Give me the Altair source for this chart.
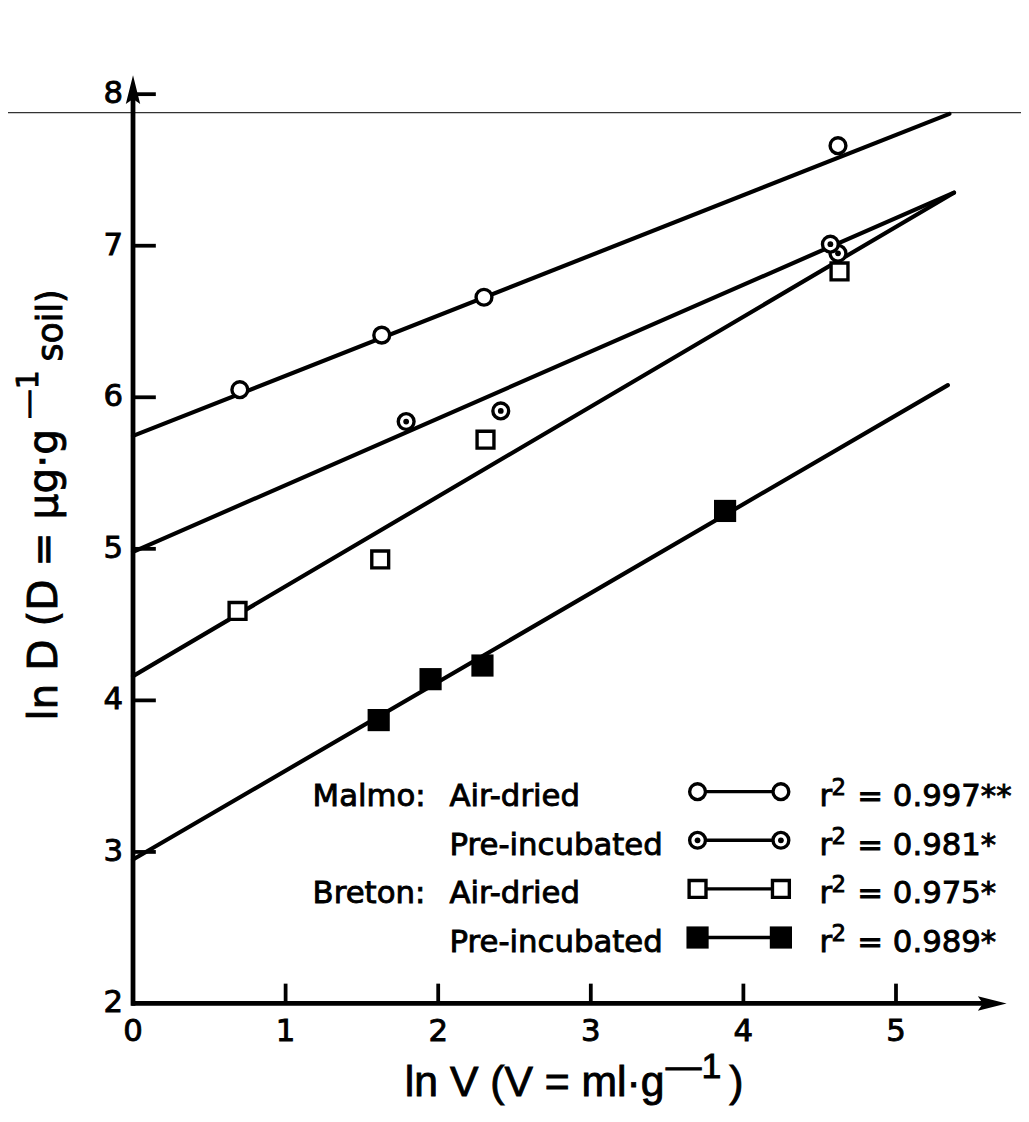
import altair as alt
import pandas as pd

# ---------------- data ----------------
malmo_air_x = [0.70, 1.63, 2.30, 4.62]
malmo_air_y = [6.05, 6.41, 6.66, 7.66]
malmo_pre_x = [1.79, 2.41, 4.62, 4.57]
malmo_pre_y = [5.84, 5.91, 6.95, 7.01]
breton_air_x = [0.685, 1.62, 2.31, 4.63]
breton_air_y = [4.59, 4.93, 5.72, 6.83]
breton_pre_x = [1.61, 1.95, 2.29, 3.88]
breton_pre_y = [3.87, 4.14, 4.23, 5.25]

# fitted regression lines (start / end)
fit_x0 = [0.0, 0.0, 0.0, 0.0]
fit_y0 = [5.745, 4.98, 4.16, 2.95]
fit_x1 = [5.35, 5.38, 5.38, 5.34]
fit_y1 = [7.87, 7.35, 7.35, 6.08]

x_ticks = [0, 1, 2, 3, 4, 5]
y_ticks = [2, 3, 4, 5, 6, 7, 8]

legend_site = ["Malmo:", "", "Breton:", ""]
legend_treat = ["Air-dried", "Pre-incubated", "Air-dried", "Pre-incubated"]
legend_r2 = ["0.997**", "0.981*", "0.975*", "0.989*"]
legend_kind = ["open_circle", "dot_circle", "open_square", "filled_square"]

# ---------------- geometry ----------------
X0_PAGE, Y2_PAGE = 134.0, 1007.0
PX_X, PX_Y = 153.8, 152.75
W, H = 875, 938
PLOT_TOP = Y2_PAGE - H
LW = 4.2          # line width of fitted lines
MSW = 3.4         # marker stroke width
TSW = 0.9         # text stroke (to mimic the heavy print)


def X(page_x):
    return (page_x - X0_PAGE) / PX_X


def Y(page_y):
    return 2 + (Y2_PAGE - page_y) / PX_Y


xs = alt.Scale(domain=[0, W / PX_X], nice=False, zero=False)
ys = alt.Scale(domain=[2, 2 + H / PX_Y], nice=False, zero=False)


def ex(f="x"):
    return alt.X(f"{f}:Q", scale=xs, axis=None)


def ey(f="y"):
    return alt.Y(f"{f}:Q", scale=ys, axis=None)


def text_kw(size, font, align="left", baseline="alphabetic", angle=None):
    kw = dict(align=align, baseline=baseline, font=font, fontSize=size, color="black",
              stroke="black", strokeWidth=TSW)
    if angle:
        kw["angle"] = angle
    return kw


layers = []

# scan line across the page
scan = pd.DataFrame({"x": [X(0)], "x2": [X(1029)], "y": [Y(109)]})
layers.append(alt.Chart(scan).mark_rule(color="#333333", strokeWidth=1.3).encode(
    x=ex(), x2="x2:Q", y=ey()))

# axis lines
ax = pd.DataFrame({"x": [0.0, -0.01], "x2": [0.0, X(1000)],
                   "y": [1.985, 2.0], "y2": [Y(92), 2.0]})
layers.append(alt.Chart(ax).mark_rule(color="black", strokeWidth=4.8).encode(
    x=ex(), x2="x2:Q", y=ey(), y2="y2:Q"))

# arrow heads
arrow_shape = "M0,-1L0.5,1L0,0.65L-0.5,1Z"
arr_up = pd.DataFrame({"x": [0.0], "y": [Y(86)]})
layers.append(alt.Chart(arr_up).mark_point(shape=arrow_shape, filled=True, color="black",
                                           size=840, opacity=1).encode(x=ex(), y=ey()))
arr_right = pd.DataFrame({"x": [X(1000)], "y": [2.0]})
layers.append(alt.Chart(arr_right).mark_point(shape=arrow_shape, filled=True, color="black",
                                              size=840, opacity=1, angle=90).encode(x=ex(), y=ey()))

# ticks (inward)
yt = pd.DataFrame({"x": [0.0] * (len(y_ticks) - 1), "x2": [X(X0_PAGE + 23)] * (len(y_ticks) - 1),
                   "y": y_ticks[1:]})
layers.append(alt.Chart(yt).mark_rule(color="black", strokeWidth=3.8).encode(
    x=ex(), x2="x2:Q", y=ey()))
xt = pd.DataFrame({"x": x_ticks[1:], "y": [2.0] * (len(x_ticks) - 1),
                   "y2": [2 + 20 / PX_Y] * (len(x_ticks) - 1)})
layers.append(alt.Chart(xt).mark_rule(color="black", strokeWidth=3.8).encode(
    x=ex(), y=ey(), y2="y2:Q"))

# tick labels
TICK_FONT = "DejaVu Sans"
ylab = pd.DataFrame({"x": [X(124)] * len(y_ticks), "y": y_ticks, "t": [str(v) for v in y_ticks]})
layers.append(alt.Chart(ylab).mark_text(**text_kw(31, TICK_FONT, align="right", baseline="middle"))
              .encode(x=ex(), y=ey(), text="t:N"))
xlab = pd.DataFrame({"x": x_ticks, "y": [Y(1045)] * len(x_ticks), "t": [str(v) for v in x_ticks]})
layers.append(alt.Chart(xlab).mark_text(**text_kw(31, TICK_FONT, align="center"))
              .encode(x=ex(), y=ey(), text="t:N"))

# regression lines
fits = pd.DataFrame({"x": fit_x0, "y": fit_y0, "x2": fit_x1, "y2": fit_y1})
layers.append(alt.Chart(fits).mark_rule(color="black", strokeWidth=LW, strokeCap="round").encode(
    x=ex(), y=ey(), x2="x2:Q", y2="y2:Q"))


def marker_layers(df, kind):
    out = []
    if kind in ("open_circle", "dot_circle"):
        out.append(alt.Chart(df).mark_point(shape="circle", filled=True, fill="white", stroke="black",
                                            strokeWidth=MSW, size=254, opacity=1).encode(x=ex(), y=ey()))
        if kind == "dot_circle":
            out.append(alt.Chart(df).mark_point(shape="circle", filled=True, color="black",
                                                size=34, opacity=1).encode(x=ex(), y=ey()))
    elif kind == "open_square":
        out.append(alt.Chart(df).mark_point(shape="square", filled=True, fill="white", stroke="black",
                                            strokeWidth=MSW, size=289, opacity=1).encode(x=ex(), y=ey()))
    else:
        out.append(alt.Chart(df).mark_point(shape="square", filled=True, color="black",
                                            size=500, opacity=1).encode(x=ex(), y=ey()))
    return out


layers += marker_layers(pd.DataFrame({"x": breton_pre_x, "y": breton_pre_y}), "filled_square")
layers += marker_layers(pd.DataFrame({"x": breton_air_x, "y": breton_air_y}), "open_square")
layers += marker_layers(pd.DataFrame({"x": malmo_pre_x, "y": malmo_pre_y}), "dot_circle")
layers += marker_layers(pd.DataFrame({"x": malmo_air_x, "y": malmo_air_y}), "open_circle")

# ---------------- legend ----------------
LEG_FONT = "DejaVu Sans"
row_base = [808 + 49 * i for i in range(4)]
row_mark = [b - 14.5 for b in row_base]

site_df = pd.DataFrame({"x": [X(315)] * 4, "y": [Y(b) for b in row_base], "t": legend_site})
treat_df = pd.DataFrame({"x": [X(453)] * 4, "y": [Y(b) for b in row_base], "t": legend_treat})
for d in (site_df, treat_df):
    layers.append(alt.Chart(d).mark_text(**text_kw(31, LEG_FONT)).encode(x=ex(), y=ey(), text="t:N"))

seg = pd.DataFrame({"x": [X(703)] * 4, "x2": [X(787)] * 4, "y": [Y(m) for m in row_mark]})
layers.append(alt.Chart(seg).mark_rule(color="black", strokeWidth=3.4).encode(x=ex(), x2="x2:Q", y=ey()))
for i, kind in enumerate(legend_kind):
    mdf = pd.DataFrame({"x": [X(703), X(787)], "y": [Y(row_mark[i])] * 2})
    layers += marker_layers(mdf, kind)

r_df = pd.DataFrame({"x": [X(826)] * 4, "y": [Y(b) for b in row_base], "t": ["r"] * 4})
layers.append(alt.Chart(r_df).mark_text(**text_kw(31, LEG_FONT)).encode(x=ex(), y=ey(), text="t:N"))
sup_df = pd.DataFrame({"x": [X(838)] * 4, "y": [Y(b - 11) for b in row_base], "t": ["2"] * 4})
layers.append(alt.Chart(sup_df).mark_text(**text_kw(23, LEG_FONT)).encode(x=ex(), y=ey(), text="t:N"))
eq_df = pd.DataFrame({"x": [X(864)] * 4, "y": [Y(b) for b in row_base],
                      "t": ["= " + r for r in legend_r2]})
layers.append(alt.Chart(eq_df).mark_text(**text_kw(31, LEG_FONT)).encode(x=ex(), y=ey(), text="t:N"))


# ---------------- axis titles ----------------
def txt(x, y, t, size, font, angle=None):
    d = pd.DataFrame({"x": [x], "y": [y], "t": [t]})
    return alt.Chart(d).mark_text(**text_kw(size, font, angle=angle)).encode(x=ex(), y=ey(), text="t:N")


XT_FONT = "Liberation Sans"
layers.append(txt(X(408), Y(1100), "ln V (V = ml·g", 43, XT_FONT))
layers.append(txt(X(671), Y(1082), "—1", 36, XT_FONT))
layers.append(txt(X(735), Y(1100), ")", 43, XT_FONT))

YT_FONT = "DejaVu Sans"
layers.append(txt(X(57), Y(722), "ln D (D = μg·g", 41, YT_FONT, angle=270))
layers.append(txt(X(38), Y(418), "—1", 30, YT_FONT, angle=270))
layers.append(txt(X(62), Y(360), "soil)", 35, YT_FONT, angle=270))

chart = alt.layer(*layers).properties(
    width=W, height=H,
    padding={"left": 126, "top": int(PLOT_TOP - 8), "right": 20, "bottom": 103},
    autosize=alt.AutoSizeParams(type="none"),
    background="white",
).configure_view(stroke=None)

chart.save("out.html", embed_options={"renderer": "svg", "actions": False})
